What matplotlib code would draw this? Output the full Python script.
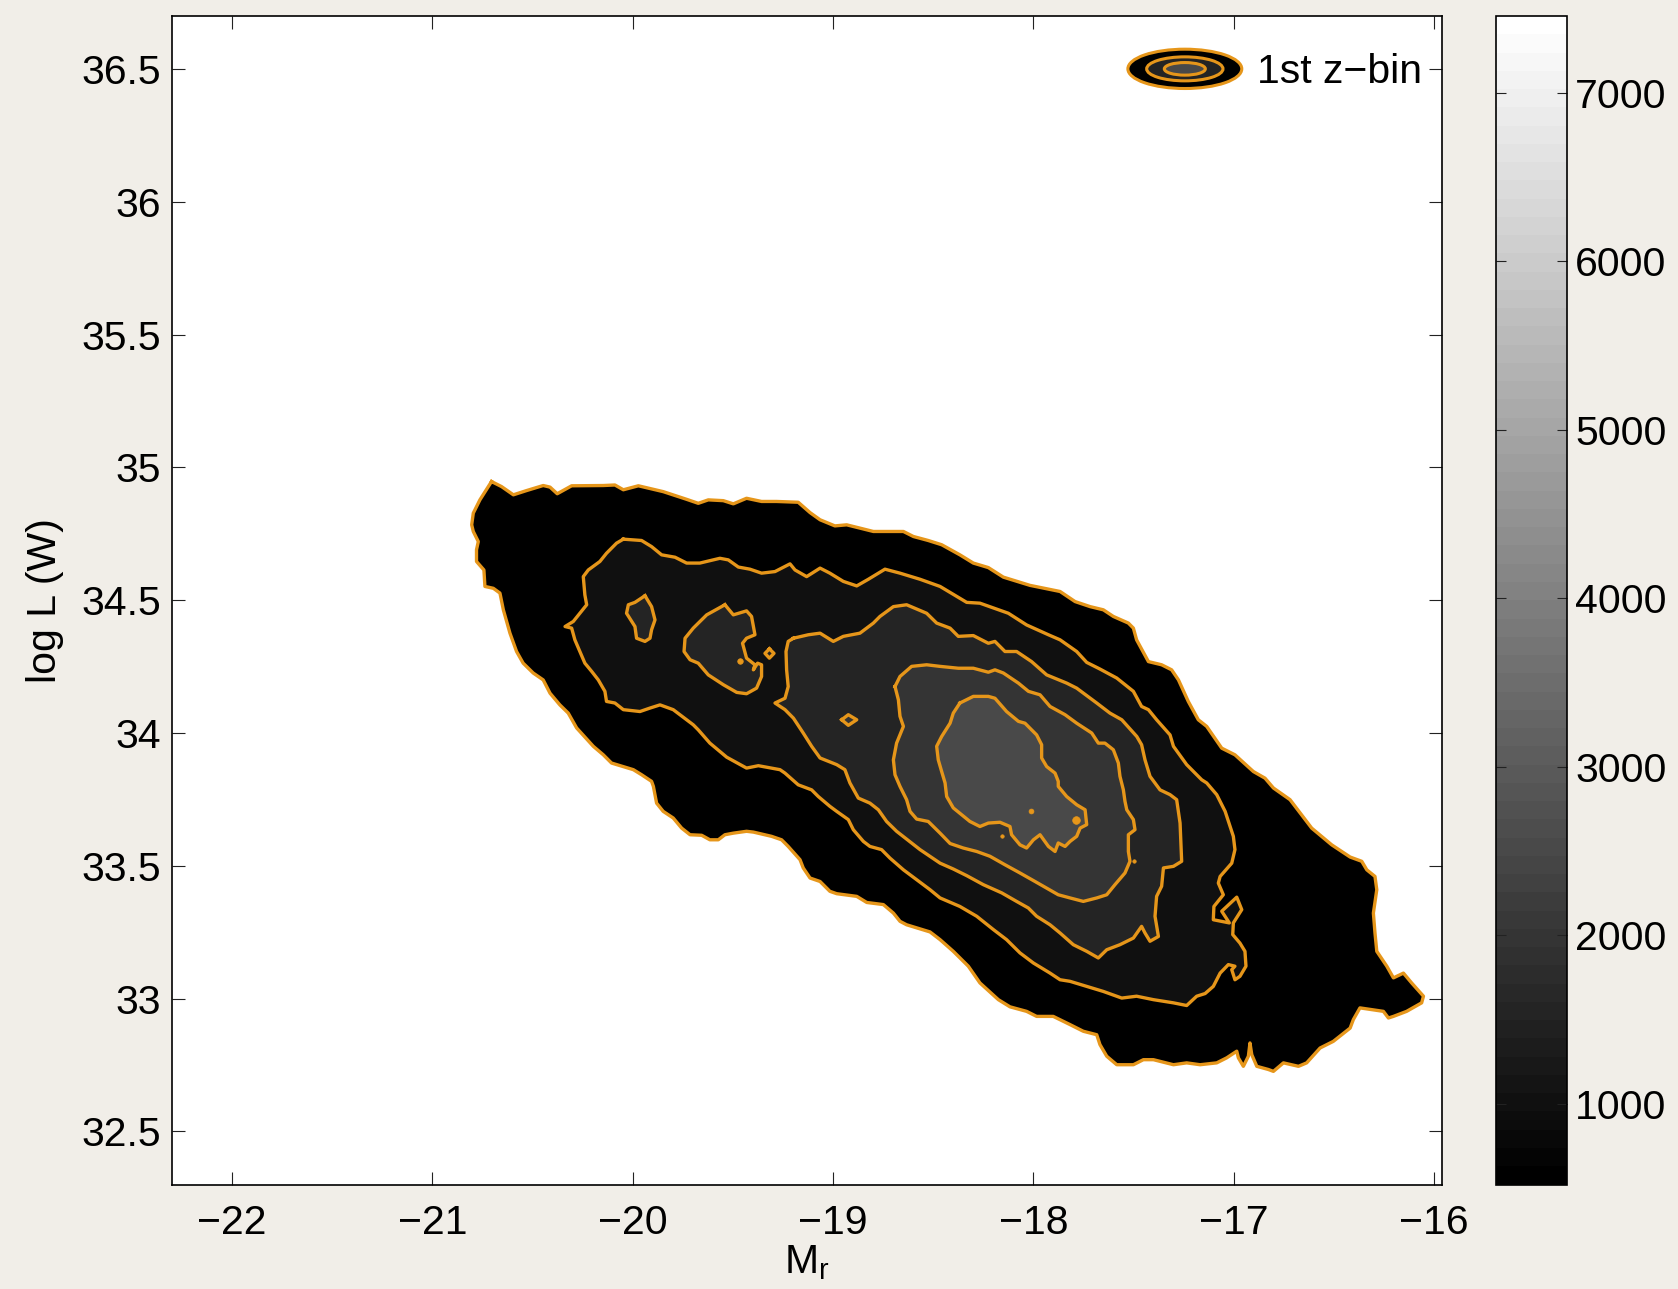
import matplotlib
matplotlib.use('Agg')
import matplotlib.pyplot as plt
import numpy as np
from matplotlib.colors import ListedColormap, Normalize
from matplotlib.cm import ScalarMappable
from matplotlib.patches import Ellipse, Patch
from matplotlib.legend_handler import HandlerBase

plt.rcParams['font.family'] = ['Liberation Sans', 'DejaVu Sans']
plt.rcParams['mathtext.fontset'] = 'custom'
plt.rcParams['mathtext.rm'] = 'Liberation Sans'
plt.rcParams['mathtext.it'] = 'Liberation Sans'

# ---------------- data ----------------
X_TICKS = [-22, -21, -20, -19, -18, -17, -16]
Y_TICKS = [32.5, 33, 33.5, 34, 34.5, 35, 35.5, 36, 36.5]
Y_TICK_LABELS = ['32.5', '33', '33.5', '34', '34.5', '35', '35.5', '36', '36.5']
CBAR_TICKS = [1000, 2000, 3000, 4000, 5000, 6000, 7000]
CLIM = (522, 7457)
LEVELS = [522, 1000, 1500, 2000, 2500]
X_LIM = (-22.3, -15.958)
Y_LIM = (32.3, 36.7)
LEGEND_LABEL = '1st z\u2212bin'

# contour outlines (M_r, log L)
CONTOUR_522 = [(-20.705,34.947),(-20.655,34.928),(-20.596,34.897),(-20.530,34.913),(-20.447,34.932),(-20.413,34.926),(-20.377,34.901),(-20.305,34.931),(-20.147,34.932),(-20.089,34.934),(-20.047,34.916),(-19.972,34.931),(-19.848,34.909),(-19.731,34.880),(-19.673,34.865),(-19.623,34.878),(-19.548,34.875),(-19.498,34.863),(-19.432,34.884),(-19.357,34.872),(-19.282,34.872),(-19.174,34.869),(-19.115,34.830),(-19.065,34.803),(-18.991,34.780),(-18.932,34.784),(-18.799,34.759),(-18.649,34.759),(-18.599,34.740),(-18.525,34.725),(-18.458,34.709),(-18.367,34.671),(-18.300,34.640),(-18.225,34.623),(-18.150,34.587),(-18.017,34.556),(-17.867,34.533),(-17.792,34.495),(-17.717,34.476),(-17.651,34.464),(-17.601,34.439),(-17.526,34.414),(-17.501,34.395),(-17.485,34.351),(-17.426,34.269),(-17.360,34.257),(-17.310,34.238),(-17.276,34.200),(-17.227,34.119),(-17.177,34.050),(-17.135,34.025),(-17.060,33.943),(-16.994,33.918),(-16.902,33.855),(-16.844,33.830),(-16.802,33.793),(-16.719,33.749),(-16.611,33.642),(-16.511,33.579),(-16.419,33.533),(-16.361,33.517),(-16.336,33.485),(-16.295,33.460),(-16.286,33.410),(-16.303,33.322),(-16.295,33.247),(-16.286,33.178),(-16.236,33.122),(-16.203,33.078),(-16.153,33.096),(-16.112,33.059),(-16.053,33.009),(-16.062,32.984),(-16.137,32.952),(-16.203,32.933),(-16.228,32.927),(-16.253,32.952),(-16.370,32.965),(-16.403,32.921),(-16.419,32.889),(-16.503,32.839),(-16.569,32.814),(-16.636,32.758),(-16.677,32.745),(-16.752,32.758),(-16.802,32.726),(-16.827,32.733),(-16.885,32.745),(-16.910,32.789),(-16.919,32.833),(-16.927,32.783),(-16.952,32.745),(-16.977,32.777),(-16.985,32.802),(-17.035,32.777),(-17.085,32.758),(-17.168,32.751),(-17.235,32.758),(-17.301,32.751),(-17.401,32.770),(-17.451,32.770),(-17.501,32.751),(-17.584,32.751),(-17.634,32.783),(-17.668,32.827),(-17.684,32.864),(-17.751,32.877),(-17.817,32.902),(-17.901,32.933),(-17.984,32.933),(-18.034,32.952),(-18.117,32.969),(-18.175,32.996),(-18.267,33.059),(-18.325,33.122),(-18.400,33.178),(-18.466,33.222),(-18.516,33.251),(-18.633,33.278),(-18.666,33.291),(-18.699,33.322),(-18.749,33.354),(-18.832,33.362),(-18.882,33.385),(-18.982,33.395),(-19.016,33.404),(-19.065,33.441),(-19.115,33.454),(-19.149,33.492),(-19.165,33.523),(-19.224,33.573),(-19.257,33.598),(-19.307,33.611),(-19.398,33.627),(-19.432,33.630),(-19.498,33.623),(-19.540,33.617),(-19.573,33.598),(-19.615,33.598),(-19.656,33.615),(-19.714,33.617),(-19.756,33.642),(-19.798,33.680),(-19.848,33.705),(-19.881,33.736),(-19.897,33.799),(-19.906,33.818),(-19.956,33.843),(-19.997,33.862),(-20.106,33.887),(-20.147,33.918),(-20.197,33.950),(-20.280,34.019),(-20.322,34.075),(-20.364,34.106),(-20.413,34.150),(-20.447,34.200),(-20.497,34.226),(-20.547,34.263),(-20.580,34.307),(-20.613,34.376),(-20.646,34.464),(-20.663,34.527),(-20.696,34.545),(-20.738,34.552),(-20.743,34.614),(-20.780,34.646),(-20.780,34.690),(-20.771,34.721),(-20.796,34.759),(-20.804,34.784),(-20.796,34.828),(-20.763,34.878)]

CONTOUR_1000 = [(-20.047,34.730),(-19.956,34.725),(-19.906,34.702),(-19.856,34.671),(-19.789,34.662),(-19.731,34.640),(-19.665,34.640),(-19.565,34.658),(-19.523,34.652),(-19.473,34.625),(-19.415,34.617),(-19.357,34.602),(-19.290,34.608),(-19.215,34.637),(-19.190,34.614),(-19.132,34.589),(-19.065,34.621),(-19.016,34.602),(-18.949,34.571),(-18.882,34.554),(-18.824,34.579),(-18.741,34.617),(-18.666,34.602),(-18.566,34.579),(-18.466,34.552),(-18.333,34.492),(-18.267,34.489),(-18.125,34.451),(-18.034,34.407),(-17.925,34.370),(-17.867,34.351),(-17.784,34.307),(-17.734,34.266),(-17.668,34.241),(-17.584,34.207),(-17.501,34.157),(-17.460,34.100),(-17.426,34.088),(-17.385,34.050),(-17.318,33.993),(-17.301,33.950),(-17.235,33.881),(-17.160,33.824),(-17.135,33.812),(-17.085,33.768),(-17.043,33.705),(-17.002,33.611),(-16.994,33.561),(-17.010,33.510),(-17.068,33.460),(-17.077,33.435),(-17.052,33.391),(-17.099,33.347),(-17.102,33.297),(-17.022,33.285),(-17.060,33.329),(-16.985,33.382),(-16.960,33.335),(-17.002,33.285),(-17.005,33.241),(-16.969,33.209),(-16.944,33.178),(-16.939,33.122),(-16.969,33.084),(-16.994,33.071),(-17.010,33.109),(-16.994,33.122),(-17.027,33.128),(-17.068,33.096),(-17.102,33.046),(-17.143,33.019),(-17.185,33.009),(-17.235,32.974),(-17.301,32.984),(-17.401,32.996),(-17.485,33.009),(-17.559,33.002),(-17.651,33.027),(-17.734,33.046),(-17.817,33.065),(-17.867,33.071),(-17.917,33.096),(-18.000,33.134),(-18.067,33.172),(-18.134,33.222),(-18.200,33.260),(-18.283,33.310),(-18.367,33.347),(-18.466,33.379),(-18.516,33.410),(-18.583,33.448),(-18.649,33.485),(-18.716,33.529),(-18.758,33.561),(-18.816,33.573),(-18.849,33.592),(-18.899,33.636),(-18.924,33.674),(-18.982,33.705),(-19.016,33.724),(-19.074,33.761),(-19.107,33.786),(-19.174,33.805),(-19.240,33.849),(-19.265,33.862),(-19.373,33.877),(-19.432,33.868),(-19.531,33.909),(-19.615,33.962),(-19.673,34.012),(-19.698,34.031),(-19.798,34.088),(-19.864,34.106),(-19.914,34.094),(-19.964,34.081),(-20.047,34.088),(-20.089,34.113),(-20.131,34.119),(-20.139,34.157),(-20.172,34.200),(-20.205,34.232),(-20.239,34.263),(-20.289,34.351),(-20.305,34.395),(-20.338,34.401),(-20.297,34.420),(-20.264,34.451),(-20.230,34.483),(-20.239,34.520),(-20.247,34.589),(-20.222,34.614),(-20.164,34.646),(-20.131,34.677),(-20.081,34.715)]

CONTOUR_1500_MAIN = [(-19.198,34.357),(-19.124,34.370),(-19.065,34.376),(-18.999,34.345),(-18.949,34.364),(-18.866,34.376),(-18.799,34.414),(-18.766,34.439),(-18.699,34.476),(-18.633,34.483),(-18.533,34.451),(-18.483,34.414),(-18.416,34.395),(-18.375,34.364),(-18.300,34.367),(-18.225,34.338),(-18.192,34.345),(-18.142,34.307),(-18.084,34.307),(-18.009,34.269),(-17.934,34.219),(-17.834,34.188),(-17.784,34.169),(-17.684,34.113),(-17.618,34.075),(-17.559,34.050),(-17.484,33.987),(-17.460,33.956),(-17.443,33.899),(-17.418,33.837),(-17.368,33.786),(-17.318,33.768),(-17.285,33.749),(-17.268,33.661),(-17.260,33.517),(-17.301,33.498),(-17.351,33.492),(-17.360,33.423),(-17.385,33.385),(-17.393,33.310),(-17.376,33.234),(-17.418,33.216),(-17.443,33.247),(-17.460,33.272),(-17.501,33.228),(-17.568,33.203),(-17.634,33.184),(-17.676,33.153),(-17.734,33.178),(-17.801,33.203),(-17.867,33.247),(-17.917,33.278),(-17.984,33.310),(-18.025,33.341),(-18.084,33.366),(-18.158,33.398),(-18.250,33.429),(-18.333,33.463),(-18.400,33.488),(-18.466,33.510),(-18.566,33.561),(-18.683,33.630),(-18.733,33.667),(-18.774,33.711),(-18.816,33.736),(-18.874,33.755),(-18.916,33.812),(-18.941,33.862),(-18.982,33.881),(-19.065,33.906),(-19.107,33.950),(-19.149,34.000),(-19.198,34.056),(-19.240,34.088),(-19.290,34.113),(-19.240,34.131),(-19.224,34.175),(-19.232,34.238),(-19.235,34.307),(-19.224,34.345)]
CONTOUR_1500_ISLAND_A = [(-19.939,34.517),(-19.906,34.476),(-19.889,34.426),(-19.906,34.389),(-19.914,34.357),(-19.939,34.345),(-19.981,34.357),(-19.989,34.401),(-20.031,34.451),(-20.022,34.483),(-19.989,34.492)]
CONTOUR_1500_ISLAND_B = [(-19.540,34.483),(-19.498,34.445),(-19.432,34.460),(-19.407,34.439),(-19.390,34.370),(-19.432,34.357),(-19.452,34.338),(-19.432,34.282),(-19.390,34.257),(-19.398,34.238),(-19.377,34.263),(-19.357,34.257),(-19.357,34.213),(-19.382,34.169),(-19.432,34.148),(-19.481,34.153),(-19.548,34.182),(-19.623,34.219),(-19.673,34.263),(-19.714,34.276),(-19.744,34.307),(-19.739,34.357),(-19.698,34.395),(-19.631,34.445)]
CONTOUR_1500_ISLAND_C = [(-19.318,34.317),(-19.295,34.300),(-19.318,34.282),(-19.340,34.300)]

CONTOUR_2000_MAIN = [(-18.691,34.175),(-18.666,34.213),(-18.608,34.251),(-18.533,34.257),(-18.466,34.251),(-18.375,34.244),(-18.300,34.244),(-18.225,34.229),(-18.192,34.238),(-18.150,34.226),(-18.075,34.188),(-18.025,34.157),(-17.967,34.144),(-17.917,34.100),(-17.842,34.069),(-17.784,34.037),(-17.709,34.000),(-17.676,33.962),(-17.643,33.962),(-17.601,33.937),(-17.576,33.887),(-17.568,33.837),(-17.551,33.786),(-17.543,33.743),(-17.534,33.711),(-17.501,33.674),(-17.493,33.636),(-17.526,33.617),(-17.526,33.554),(-17.518,33.517),(-17.543,33.473),(-17.593,33.429),(-17.634,33.391),(-17.684,33.379),(-17.751,33.366),(-17.817,33.379),(-17.876,33.391),(-17.934,33.416),(-17.992,33.441),(-18.067,33.473),(-18.142,33.504),(-18.217,33.536),(-18.283,33.554),(-18.350,33.567),(-18.416,33.584),(-18.466,33.623),(-18.525,33.667),(-18.583,33.676),(-18.616,33.705),(-18.633,33.749),(-18.666,33.799),(-18.691,33.843),(-18.699,33.899),(-18.683,33.962),(-18.649,34.025),(-18.666,34.063),(-18.674,34.125)]
CONTOUR_2000_ISLAND = [(-18.957,34.050),(-18.924,34.069),(-18.882,34.050),(-18.924,34.029)]

CONTOUR_2500 = [(-18.367,34.113),(-18.300,34.138),(-18.225,34.138),(-18.192,34.131),(-18.134,34.081),(-18.075,34.044),(-18.042,34.037),(-17.984,33.993),(-17.959,33.956),(-17.959,33.906),(-17.934,33.874),(-17.892,33.849),(-17.876,33.818),(-17.876,33.799),(-17.834,33.761),(-17.784,33.730),(-17.742,33.711),(-17.734,33.655),(-17.767,33.642),(-17.784,33.611),(-17.817,33.592),(-17.842,33.573),(-17.876,33.586),(-17.892,33.554),(-17.925,33.573),(-17.967,33.617),(-18.000,33.598),(-18.034,33.567),(-18.067,33.579),(-18.109,33.617),(-18.117,33.648),(-18.167,33.664),(-18.225,33.661),(-18.267,33.648),(-18.317,33.667),(-18.400,33.718),(-18.433,33.761),(-18.441,33.812),(-18.458,33.855),(-18.475,33.899),(-18.483,33.950),(-18.458,33.987),(-18.416,34.037),(-18.400,34.075)]

# tiny closed contour loops (drawn as small dots)
SPECK_MR = [-18.014, -17.787, -18.155, -17.496, -19.465]
SPECK_LOGL = [33.705, 33.674, 33.613, 33.520, 34.270]
SPECK_SIZE = [3.5, 5.5, 2.5, 2.5, 4.0]

CONTOURS = [
    (LEVELS[0], CONTOUR_522),
    (LEVELS[1], CONTOUR_1000),
    (LEVELS[2], CONTOUR_1500_MAIN),
    (LEVELS[2], CONTOUR_1500_ISLAND_A),
    (LEVELS[2], CONTOUR_1500_ISLAND_B),
    (LEVELS[2], CONTOUR_1500_ISLAND_C),
    (LEVELS[3], CONTOUR_2000_MAIN),
    (LEVELS[3], CONTOUR_2000_ISLAND),
    (LEVELS[4], CONTOUR_2500),
]

# ---------------- style ----------------
BG = '#f1eee8'
ORANGE = '#e6961a'
FS = 29.5
cmap = ListedColormap(plt.cm.gray(np.linspace(0, 1, 64)))
norm = Normalize(vmin=CLIM[0], vmax=CLIM[1])


def fill_color(level):
    return cmap(norm(level))


fig = plt.figure(figsize=(16.78, 12.89), dpi=100, facecolor=BG)
ax = fig.add_axes([0.1025, 0.08107, 0.75715, 0.90652])
ax.set_facecolor('white')

for z, (level, poly) in enumerate(CONTOURS):
    xs = [p[0] for p in poly] + [poly[0][0]]
    ys = [p[1] for p in poly] + [poly[0][1]]
    ax.fill(xs, ys, facecolor=fill_color(level), edgecolor='none', zorder=2 + z * 0.01)
for level, poly in CONTOURS:
    xs = [p[0] for p in poly] + [poly[0][0]]
    ys = [p[1] for p in poly] + [poly[0][1]]
    ax.plot(xs, ys, color=ORANGE, lw=2.4, solid_joinstyle='round', zorder=3)
for mx, my, ms in zip(SPECK_MR, SPECK_LOGL, SPECK_SIZE):
    ax.plot([mx], [my], 'o', ms=ms, mfc=ORANGE, mec=ORANGE, mew=0.5, zorder=3)

ax.set_xlim(*X_LIM)
ax.set_ylim(*Y_LIM)
ax.set_xticks(X_TICKS)
ax.set_yticks(Y_TICKS)
ax.set_yticklabels(Y_TICK_LABELS)
ax.tick_params(axis='both', which='both', direction='in', length=9.4, width=0.8,
               top=True, right=True, labelsize=FS, color='#222222')
ax.tick_params(axis='x', pad=14)
ax.tick_params(axis='y', pad=8)
for s in ax.spines.values():
    s.set_linewidth(1.2)

ax.set_xlabel('M$_\\mathregular{r}$', fontsize=FS)
ax.xaxis.set_label_coords(0.5, -0.050)
ax.set_ylabel('log L (W)', fontsize=FS)
ax.yaxis.set_label_coords(-0.085, 0.5)


# legend with a contour-like icon
class ContourIconHandler(HandlerBase):
    def create_artists(self, legend, orig_handle, xdescent, ydescent,
                       width, height, fontsize, trans):
        cx = -xdescent + width / 2.0
        cy = -ydescent + height / 2.0
        arts = []
        for fw, fh, lvl in [(1.0, 1.0, LEVELS[0]), (0.67, 0.61, LEVELS[2]), (0.36, 0.32, LEVELS[4])]:
            e = Ellipse((cx, cy), width * fw, height * fh, facecolor=fill_color(lvl),
                        edgecolor=ORANGE, lw=2.2, transform=trans)
            arts.append(e)
        return arts


proxy = Patch(label=LEGEND_LABEL)
ax.legend(handles=[proxy], handler_map={Patch: ContourIconHandler()},
          loc='center right', bbox_to_anchor=(0.9835, 0.9538), frameon=False,
          fontsize=FS, borderpad=0, borderaxespad=0, handlelength=2.78,
          handleheight=1.1, handletextpad=0.36)

# colorbar
cax = fig.add_axes([0.89124, 0.08107, 0.04261, 0.90652])
sm = ScalarMappable(norm=norm, cmap=cmap)
cb = fig.colorbar(sm, cax=cax, ticks=CBAR_TICKS)
cb.outline.set_linewidth(1.2)
cax.tick_params(direction='in', length=7.2, width=0.8, left=True, right=True,
                labelsize=FS, pad=6, color='#222222')
cax.set_yticklabels([str(t) for t in CBAR_TICKS])

fig.savefig('out.png', dpi=100, facecolor=BG)
